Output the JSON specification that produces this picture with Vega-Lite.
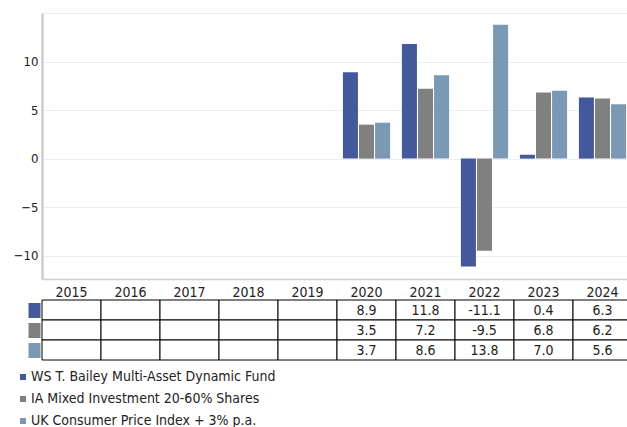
{
  "$schema": "https://vega.github.io/schema/vega-lite/v6.json",
  "padding": {"left": 0, "top": 13, "right": 0, "bottom": 0},
  "background": "white",
  "config": {
    "font": "DejaVu Sans Condensed, Liberation Sans, sans-serif",
    "view": {"stroke": null},
    "locale": {"number": {"decimal": ".", "thousands": ",", "grouping": [3], "currency": ["", ""], "minus": "-"}}
  },
  "data": {
    "values": [
      {"year": 2015, "series": "WS T. Bailey Multi-Asset Dynamic Fund", "value": null},
      {"year": 2016, "series": "WS T. Bailey Multi-Asset Dynamic Fund", "value": null},
      {"year": 2017, "series": "WS T. Bailey Multi-Asset Dynamic Fund", "value": null},
      {"year": 2018, "series": "WS T. Bailey Multi-Asset Dynamic Fund", "value": null},
      {"year": 2019, "series": "WS T. Bailey Multi-Asset Dynamic Fund", "value": null},
      {"year": 2020, "series": "WS T. Bailey Multi-Asset Dynamic Fund", "value": 8.9},
      {"year": 2021, "series": "WS T. Bailey Multi-Asset Dynamic Fund", "value": 11.8},
      {"year": 2022, "series": "WS T. Bailey Multi-Asset Dynamic Fund", "value": -11.1},
      {"year": 2023, "series": "WS T. Bailey Multi-Asset Dynamic Fund", "value": 0.4},
      {"year": 2024, "series": "WS T. Bailey Multi-Asset Dynamic Fund", "value": 6.3},
      {"year": 2015, "series": "IA Mixed Investment 20-60% Shares", "value": null},
      {"year": 2016, "series": "IA Mixed Investment 20-60% Shares", "value": null},
      {"year": 2017, "series": "IA Mixed Investment 20-60% Shares", "value": null},
      {"year": 2018, "series": "IA Mixed Investment 20-60% Shares", "value": null},
      {"year": 2019, "series": "IA Mixed Investment 20-60% Shares", "value": null},
      {"year": 2020, "series": "IA Mixed Investment 20-60% Shares", "value": 3.5},
      {"year": 2021, "series": "IA Mixed Investment 20-60% Shares", "value": 7.2},
      {"year": 2022, "series": "IA Mixed Investment 20-60% Shares", "value": -9.5},
      {"year": 2023, "series": "IA Mixed Investment 20-60% Shares", "value": 6.8},
      {"year": 2024, "series": "IA Mixed Investment 20-60% Shares", "value": 6.2},
      {"year": 2015, "series": "UK Consumer Price Index + 3% p.a.", "value": null},
      {"year": 2016, "series": "UK Consumer Price Index + 3% p.a.", "value": null},
      {"year": 2017, "series": "UK Consumer Price Index + 3% p.a.", "value": null},
      {"year": 2018, "series": "UK Consumer Price Index + 3% p.a.", "value": null},
      {"year": 2019, "series": "UK Consumer Price Index + 3% p.a.", "value": null},
      {"year": 2020, "series": "UK Consumer Price Index + 3% p.a.", "value": 3.7},
      {"year": 2021, "series": "UK Consumer Price Index + 3% p.a.", "value": 8.6},
      {"year": 2022, "series": "UK Consumer Price Index + 3% p.a.", "value": 13.8},
      {"year": 2023, "series": "UK Consumer Price Index + 3% p.a.", "value": 7.0},
      {"year": 2024, "series": "UK Consumer Price Index + 3% p.a.", "value": 5.6}
    ]
  },
  "spacing": 0,
  "resolve": {"scale": {"x": "independent", "y": "independent"}},
  "vconcat": [
    {
      "width": 590,
      "height": 266,
      "mark": {"type": "bar"},
      "encoding": {
        "x": {
          "field": "year", "type": "ordinal",
          "scale": {"domain": [2015, 2016, 2017, 2018, 2019, 2020, 2021, 2022, 2023, 2024], "paddingInner": 0.2, "paddingOuter": 0.1},
          "axis": {"title": null, "labels": false, "ticks": false, "grid": false, "domainColor": "#d0d0d0", "domainWidth": 1.5, "minExtent": 0, "maxExtent": 0}
        },
        "xOffset": {
          "field": "series", "type": "nominal",
          "scale": {"domain": ["WS T. Bailey Multi-Asset Dynamic Fund", "IA Mixed Investment 20-60% Shares", "UK Consumer Price Index + 3% p.a."], "paddingInner": 0.065, "paddingOuter": 0}
        },
        "y": {
          "field": "value", "type": "quantitative",
          "scale": {"domain": [-12.4, 15], "nice": false, "zero": false},
          "axis": {"title": null, "values": [-10, -5, 0, 5, 10, 15], "labelExpr": "datum.value == 15 ? '' : replace(datum.label, '-', '\u2212')", "ticks": false, "tickSize": 0, "labelPadding": 4, "labelFontSize": 13, "labelColor": "#222222", "domainColor": "#c4c4c4", "domainWidth": 2, "gridColor": "#eeeeee", "minExtent": 40, "maxExtent": 40}
        },
        "color": {
          "field": "series", "type": "nominal",
          "scale": {"domain": ["WS T. Bailey Multi-Asset Dynamic Fund", "IA Mixed Investment 20-60% Shares", "UK Consumer Price Index + 3% p.a."], "range": ["#44599c", "#808080", "#7a99b5"]},
          "legend": {"title": null, "orient": "none", "legendX": -26, "legendY": 357, "direction": "vertical", "symbolType": "square", "symbolSize": 36, "symbolStrokeWidth": 0, "labelFontSize": 14, "labelLimit": 0, "labelColor": "#222222", "rowPadding": 8, "labelOffset": 1}
        }
      }
    },
    {
      "width": 590,
      "height": 60,
      "encoding": {
        "x": {
          "field": "year", "type": "ordinal",
          "scale": {"domain": [2015, 2016, 2017, 2018, 2019, 2020, 2021, 2022, 2023, 2024], "paddingInner": 0, "paddingOuter": 0},
          "axis": {"orient": "top", "title": null, "domain": false, "ticks": false, "tickSize": 0, "labelPadding": 1, "labelAngle": 0, "labelFontSize": 14, "labelColor": "#222222", "minExtent": 21, "maxExtent": 21}
        },
        "y": {
          "field": "series", "type": "nominal",
          "scale": {"domain": ["WS T. Bailey Multi-Asset Dynamic Fund", "IA Mixed Investment 20-60% Shares", "UK Consumer Price Index + 3% p.a."], "paddingInner": 0, "paddingOuter": 0},
          "axis": {
            "title": null, "labels": false, "domain": false, "grid": false,
            "tickSize": 12, "tickWidth": 15, "offset": 2,
            "tickColor": {"condition": [
              {"test": "datum.value === 'WS T. Bailey Multi-Asset Dynamic Fund'", "value": "#44599c"},
              {"test": "datum.value === 'IA Mixed Investment 20-60% Shares'", "value": "#808080"}
            ], "value": "#7a99b5"},
            "minExtent": 40, "maxExtent": 40
          }
        }
      },
      "layer": [
        {"mark": {"type": "rect", "fill": "white", "stroke": "black", "strokeWidth": 1}},
        {
          "transform": [{"filter": "isValid(datum.value)"}],
          "mark": {"type": "text", "fontSize": 14, "color": "#222222", "baseline": "middle", "dy": 1},
          "encoding": {"text": {"field": "value", "type": "quantitative", "format": ".1f"}}
        }
      ]
    }
  ]
}
